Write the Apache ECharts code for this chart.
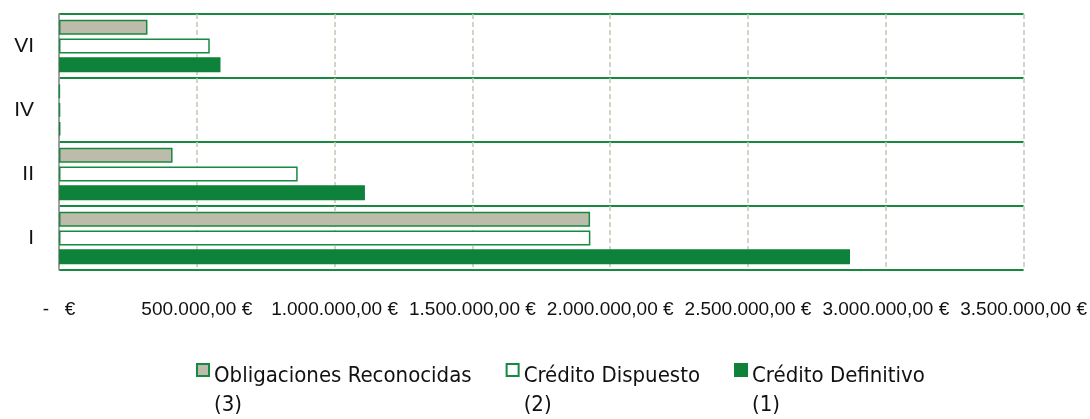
<!DOCTYPE html>
<html><head><meta charset="utf-8">
<script src="https://cdn.jsdelivr.net/npm/echarts@6/dist/echarts.min.js"></script>
<style>html,body{margin:0;padding:0;background:#fff}#c{width:1090px;height:419px}</style>
</head><body><div id="c"></div>
<script>
const categories = ['I', 'II', 'IV', 'VI'];
const creditoDefinitivo = [2870000, 1110000, 5000, 586000];
const creditoDispuesto = [1928000, 866000, 4000, 547000];
const obligacionesReconocidas = [1927000, 412000, 3000, 321000];
const seriesNames = ['Obligaciones Reconocidas', 'Crédito Dispuesto', 'Crédito Definitivo'];
const seriesNotes = ['(3)', '(2)', '(1)'];

const GREEN = '#0E823A';
const EDGE = '#168A40';
const GREY = '#BDBCAB';
const FONT = "'Liberation Sans', Arial, sans-serif";
const NARROW = "'Liberation Sans Narrow', 'DejaVu Sans Condensed', sans-serif";

function fmt(v) {
  if (v === 0) return '-   €';
  const s = Math.round(v).toString().replace(/\B(?=(\d{3})+(?!\d))/g, '.');
  return s + ',00 €';
}

const chart = echarts.init(document.getElementById('c'));
chart.setOption({
  animation: false,
  grid: { left: 59, right: 66, top: 14, bottom: 149, containLabel: false },
  xAxis: {
    type: 'value', min: 0, max: 3500000, interval: 500000,
    axisLine: { show: false }, axisTick: { show: false },
    axisLabel: { formatter: fmt, color: '#111', fontSize: 19, fontFamily: FONT, margin: 30 },
    splitLine: { show: true, lineStyle: { color: '#C8C6B8', width: 1.5, type: [5, 3] } }
  },
  yAxis: {
    type: 'category', data: categories,
    axisLine: { show: true, lineStyle: { color: '#8A8A8A', width: 1.5 } },
    axisTick: { show: false },
    axisLabel: { color: '#111', fontSize: 21, fontFamily: FONT, margin: 25 },
    splitLine: { show: true, lineStyle: { color: EDGE, width: 2 } }
  },
  legend: {
    data: seriesNames,
    icon: 'rect',
    left: 196, top: 336, padding: 0, itemGap: 34,
    itemWidth: 12, itemHeight: 12,
    formatter: function (name) {
      return '{s| }\n{a|' + name + '}\n{a|' + seriesNotes[seriesNames.indexOf(name)] + '}';
    },
    textStyle: {
      color: '#111', fontFamily: NARROW,
      rich: {
        s: { fontSize: 10, lineHeight: 41 },
        a: { fontSize: 22, lineHeight: 29, color: '#111', fontFamily: NARROW }
      }
    }
  },
  series: [
    { name: seriesNames[0], type: 'bar', data: obligacionesReconocidas, barWidth: 15, barGap: '25%',
      itemStyle: { color: GREY, borderColor: EDGE, borderWidth: 1.5 } },
    { name: seriesNames[1], type: 'bar', data: creditoDispuesto, barWidth: 15, barGap: '25%',
      itemStyle: { color: '#FFFFFF', borderColor: EDGE, borderWidth: 1.5 } },
    { name: seriesNames[2], type: 'bar', data: creditoDefinitivo, barWidth: 15, barGap: '25%',
      itemStyle: { color: GREEN, borderColor: GREEN, borderWidth: 1.5 } }
  ]
});
</script></body></html>
